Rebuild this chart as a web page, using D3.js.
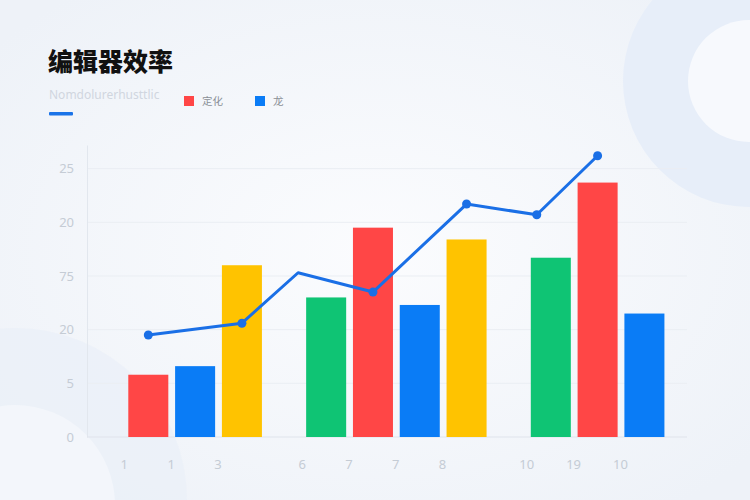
<!DOCTYPE html>
<html>
<head>
<meta charset="utf-8">
<script src="https://cdn.jsdelivr.net/npm/d3@7"></script>
<style>
  html, body { margin: 0; padding: 0; background: #f4f7fb; }
  svg { display: block; }
</style>
</head>
<body>
<div id="chart"></div>
<script>
// chart values
var title = "编辑器效率";
var subtitle = "Nomdolurerhusttlic";
var legendNames = ["定化", "龙"];

var barLabels = ["1", "1", "3", "6", "7", "7", "8", "10", "19", "10"];
var barValues = [5.8, 6.6, 16.0, 13.0, 19.5, 12.3, 18.4, 16.7, 23.7, 11.5];
var barGroup  = [0, 0, 0, 1, 1, 1, 1, 2, 2, 2];
var barSeries = [0, 1, 2, 3, 0, 1, 2, 3, 0, 1];

var lineSlots  = [0, 2, 3.2, 4.8, 6.8, 8.3, 9.6];
var lineValues = [9.5, 10.6, 15.3, 13.5, 21.7, 20.7, 26.2];
var lineDot    = [true, true, false, true, true, true, true];

var yTicks      = [0, 5, 10, 15, 20, 25];
var yTickLabels = ["0", "5", "20", "75", "20", "25"];

var palette = ["#ff4646", "#0a7cf6", "#ffc300", "#0fc474"];
var lineColor = "#1a6fe6";

var W = 750, H = 500;
var groupGap = 0.8;

var svg = d3.select("#chart").append("svg")
    .attr("width", W)
    .attr("height", H);

// background + decorative circles
var defs = svg.append("defs");
var bg = defs.append("radialGradient").attr("id", "bg")
    .attr("cx", "50%").attr("cy", "50%").attr("r", "65%");
bg.append("stop").attr("offset", "0%").attr("stop-color", "#fbfcfe");
bg.append("stop").attr("offset", "100%").attr("stop-color", "#eef2f8");
svg.append("rect").attr("width", W).attr("height", H).attr("fill", "url(#bg)");

svg.append("circle").attr("cx", 749).attr("cy", 81).attr("r", 126).attr("fill", "#e7eef9");
svg.append("circle").attr("cx", 749).attr("cy", 81).attr("r", 61).attr("fill", "#f7f9fd");
svg.append("circle").attr("cx", 15).attr("cy", 500).attr("r", 172).attr("fill", "#e9eff8").attr("opacity", 0.7);
svg.append("circle").attr("cx", 15).attr("cy", 505).attr("r", 100).attr("fill", "#f3f6fb");

// title block
svg.append("text")
    .attr("x", 48).attr("y", 71)
    .attr("font-family", "'Noto Sans CJK SC', sans-serif")
    .attr("font-weight", 900)
    .attr("font-size", 25)
    .attr("fill", "#111")
    .text(title);

svg.append("text")
    .attr("x", 49).attr("y", 99)
    .attr("font-family", "'Noto Sans', sans-serif")
    .attr("font-size", 12)
    .attr("fill", "#d0d6df")
    .text(subtitle);

svg.append("rect")
    .attr("x", 49).attr("y", 112)
    .attr("width", 24).attr("height", 3.5)
    .attr("rx", 1)
    .attr("fill", "#1a73e8");

// legend
var legend = svg.append("g");
var legendX = [184, 255];
legendNames.forEach(function(name, i) {
    legend.append("rect")
        .attr("x", legendX[i]).attr("y", 96)
        .attr("width", 10).attr("height", 10)
        .attr("fill", palette[i]);
    legend.append("text")
        .attr("x", legendX[i] + 18).attr("y", 105)
        .attr("font-family", "'Noto Sans CJK SC', sans-serif")
        .attr("font-size", 10.5)
        .attr("fill", "#8a8f96")
        .text(name);
});

// scales
var x = d3.scaleLinear()
    .domain([-1.31, 11.51])
    .range([87, 687]);

var y = d3.scaleLinear()
    .domain([0, 27.2])
    .range([437, 145]);

var barW = x(0.855) - x(0);
function slotOf(i) { return i + barGroup[i] * groupGap; }

// grid lines
svg.append("g")
    .selectAll("line")
    .data(yTicks.slice(1))
    .enter()
    .append("line")
        .attr("x1", x.range()[0]).attr("x2", x.range()[1])
        .attr("y1", function(d) { return y(d); })
        .attr("y2", function(d) { return y(d); })
        .attr("stroke", "#eaeef3")
        .attr("stroke-width", 1);

// y axis
var yAxis = svg.append("g")
    .attr("transform", "translate(87,0)")
    .call(d3.axisLeft(y)
        .tickValues(yTicks)
        .tickSize(0)
        .tickPadding(13)
        .tickFormat(function(d, i) { return yTickLabels[i]; }));
yAxis.select(".domain").attr("stroke", "#e2e7ee");
yAxis.selectAll("text")
    .attr("font-family", "'Noto Sans', sans-serif")
    .attr("font-size", 13)
    .attr("fill", "#c5ccd5");

// x baseline
svg.append("line")
    .attr("x1", x.range()[0]).attr("x2", x.range()[1])
    .attr("y1", y(0)).attr("y2", y(0))
    .attr("stroke", "#dfe4eb")
    .attr("stroke-width", 1.2);

// bars
svg.append("g")
    .selectAll("rect")
    .data(barValues)
    .enter()
    .append("rect")
        .attr("x", function(d, i) { return x(slotOf(i)) - barW / 2; })
        .attr("y", function(d) { return y(d); })
        .attr("width", barW)
        .attr("height", function(d) { return y(0) - y(d); })
        .attr("fill", function(d, i) { return palette[barSeries[i]]; });

// x labels
svg.append("g")
    .selectAll("text")
    .data(barLabels)
    .enter()
    .append("text")
        .attr("x", function(d, i) { return x(slotOf(i)) - barW / 2 - 4; })
        .attr("y", 469)
        .attr("text-anchor", "middle")
        .attr("font-family", "'Noto Sans', sans-serif")
        .attr("font-size", 13)
        .attr("fill", "#c5ccd5")
        .text(function(d) { return d; });

// line
var pts = lineValues.map(function(v, i) { return [lineSlots[i], v, lineDot[i]]; });
var line = d3.line()
    .x(function(d) { return x(d[0]); })
    .y(function(d) { return y(d[1]); });

svg.append("path")
    .datum(pts)
    .attr("d", line)
    .attr("fill", "none")
    .attr("stroke", lineColor)
    .attr("stroke-width", 3)
    .attr("stroke-linejoin", "round");

svg.append("g")
    .selectAll("circle")
    .data(pts.filter(function(d) { return d[2]; }))
    .enter()
    .append("circle")
        .attr("cx", function(d) { return x(d[0]); })
        .attr("cy", function(d) { return y(d[1]); })
        .attr("r", 4.5)
        .attr("fill", lineColor);
</script>
</body>
</html>
